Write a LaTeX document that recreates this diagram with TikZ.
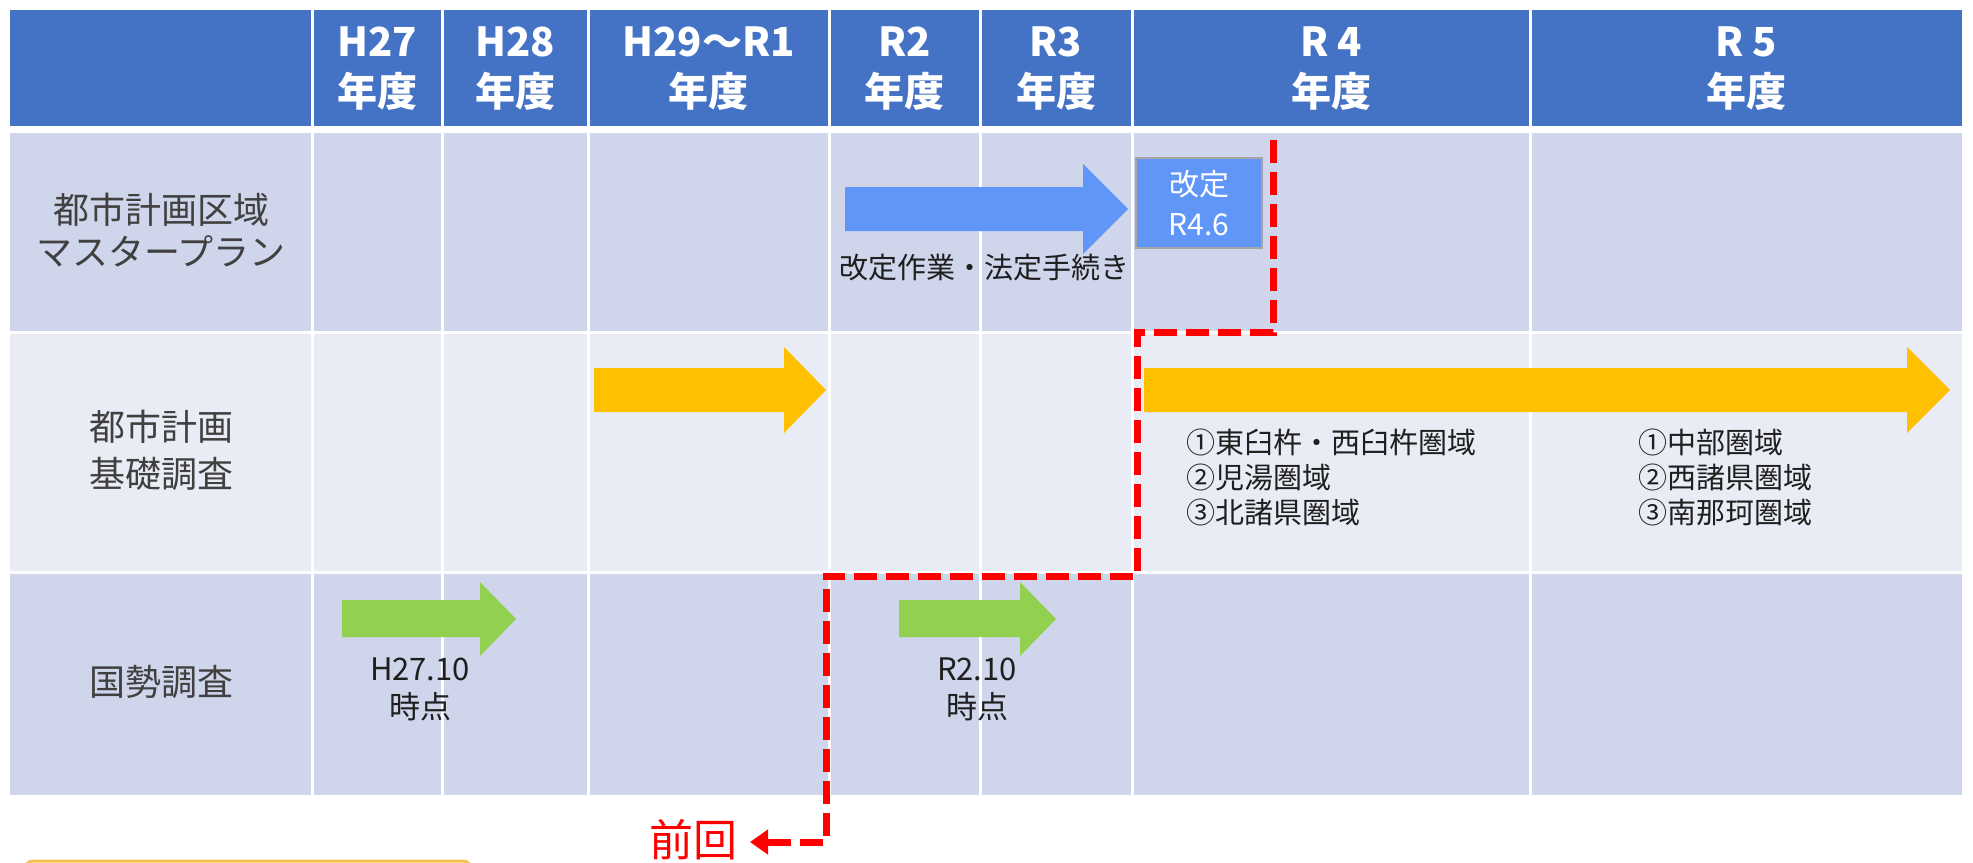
\documentclass[tikz,border=0pt]{standalone}
\usepackage{fontspec}
\setmainfont{Noto Sans CJK JP}
\usetikzlibrary{arrows.meta}
\definecolor{hdr}{HTML}{4472C4}
\definecolor{bandA}{HTML}{CFD5EA}
\definecolor{bandB}{HTML}{E9EBF5}
\definecolor{arrblue}{HTML}{5F96F8}
\definecolor{arryel}{HTML}{FFC000}
\definecolor{arrgrn}{HTML}{92D050}
\definecolor{redd}{HTML}{FF0000}
\definecolor{txt}{HTML}{1F1F1F}
\definecolor{lbl}{HTML}{404040}
\definecolor{boxline}{HTML}{F2C14E}
\begin{document}
\begin{tikzpicture}[x=0.5pt,y=-0.5pt,
  hdrtext/.style={text=white,align=center,inner sep=0pt,font={\fontsize{20pt}{25pt}\bfseries\selectfont}},
  rowlabel/.style={text=lbl,align=center,inner sep=0pt,font={\fontsize{18pt}{21pt}\selectfont}},
  bodytext/.style={text=txt,align=center,inner sep=0pt,font={\fontsize{14.5pt}{17.5pt}\selectfont}},
  listtext/.style={text=txt,align=left,anchor=west,inner sep=0pt,font={\fontsize{14.5pt}{17.5pt}\selectfont}},
  gridline/.style={white,line width=1.5pt},
  redpath/.style={redd,line width=3.5pt,dash pattern=on 11.5pt off 4.5pt},
]
\useasboundingbox (0,0) rectangle (1973,862);
\clip (0,0) rectangle (1973,862);
\fill[white] (0,0) rectangle (1973,862);
% table bands
\fill[hdr] (10,10) rectangle (1962,126);
\fill[bandA] (10,133) rectangle (1962,332);
\fill[bandB] (10,332) rectangle (1962,572);
\fill[bandA] (10,572) rectangle (1962,795);
\draw[gridline] (10,332) -- (1962,332);
\draw[gridline] (10,572) -- (1962,572);
\foreach \xx in {312,442,588,829,980,1132,1530}{
  \draw[gridline] (\xx,10) -- (\xx,126);
  \draw[gridline] (\xx,133) -- (\xx,795);
}
% header texts
\node[hdrtext] (h27) at (377,69) {H27\\年度};
\node[hdrtext] (h28) at (515,69) {H28\\年度};
\node[hdrtext] (h29) at (708.5,69) {H29～R1\\年度};
\node[hdrtext] (r2) at (904.5,69) {R2\\年度};
\node[hdrtext] (r3) at (1056,69) {R3\\年度};
\node[hdrtext] (r4) at (1331,69) {R 4\\年度};
\node[hdrtext] (r5) at (1746,69) {R 5\\年度};
% row labels
\node[rowlabel] (lmp) at (161,230) {都市計画区域\\マスタープラン};
\node[rowlabel,font={\fontsize{18pt}{23.5pt}\selectfont}] (lbs) at (161,450) {都市計画\\基礎調査};
\node[rowlabel] (lks) at (161,682) {国勢調査};
% blue arrow
\fill[arrblue] (845,187) -- (1083,187) -- (1083,164) -- (1128,209) -- (1083,254) -- (1083,231) -- (845,231) -- cycle;
\node[bodytext] (mplab) at (984,268) {改定作業・法定手続き};
% revision box
\filldraw[fill=arrblue,draw=gray!70,line width=1pt] (1136,158) rectangle (1262,248);
\node[text=white,align=center,inner sep=0pt,font={\fontsize{15pt}{20pt}\selectfont}] (rev) at (1199,203) {改定\\R4.6};
% yellow arrows
\fill[arryel] (594,368) -- (784,368) -- (784,347) -- (826,390) -- (784,433) -- (784,412) -- (594,412) -- cycle;
\fill[arryel] (1144,368) -- (1907,368) -- (1907,347) -- (1950,390) -- (1907,433) -- (1907,412) -- (1144,412) -- cycle;
\node[listtext] (lista) at (1186,477) {①東臼杵・西臼杵圏域\\②児湯圏域\\③北諸県圏域};
\node[listtext] (listb) at (1638,477) {①中部圏域\\②西諸県圏域\\③南那珂圏域};
% green arrows
\fill[arrgrn] (342,600) -- (480,600) -- (480,582) -- (516,619) -- (480,656) -- (480,637) -- (342,637) -- cycle;
\fill[arrgrn] (899,600) -- (1020,600) -- (1020,582) -- (1056,619) -- (1020,656) -- (1020,637) -- (899,637) -- cycle;
\node[bodytext,font={\fontsize{15.5pt}{19pt}\selectfont}] (cen1) at (420,689) {H27.10\\時点};
\node[bodytext,font={\fontsize{15.5pt}{19pt}\selectfont}] (cen2) at (977,689) {R2.10\\時点};
% red dashed boundary
\node[text=redd,inner sep=0pt,anchor=base,font={\fontsize{22pt}{26pt}\selectfont}] (prev) at (693,856) {前回};
\coordinate (d0) at (1273,140);
\coordinate (d1) at (1273,332);
\coordinate (d2) at (1137,332);
\coordinate (d3) at (1137,576);
\coordinate (d4) at (826,576);
\coordinate (d5) at (826,842);
\coordinate (d6) at (750,842);
\draw[redpath,-{Triangle[length=9pt,width=12pt]},line join=miter] (d0) -- (d1) -- (d2) -- (d3) -- (d4) -- (d5) -- (d6);
% cut-off box at bottom
\draw[boxline,line width=1.5pt,rounded corners=4pt] (25,900) -- (25,861) -- (471,861) -- (471,900);
\end{tikzpicture}
\end{document}
